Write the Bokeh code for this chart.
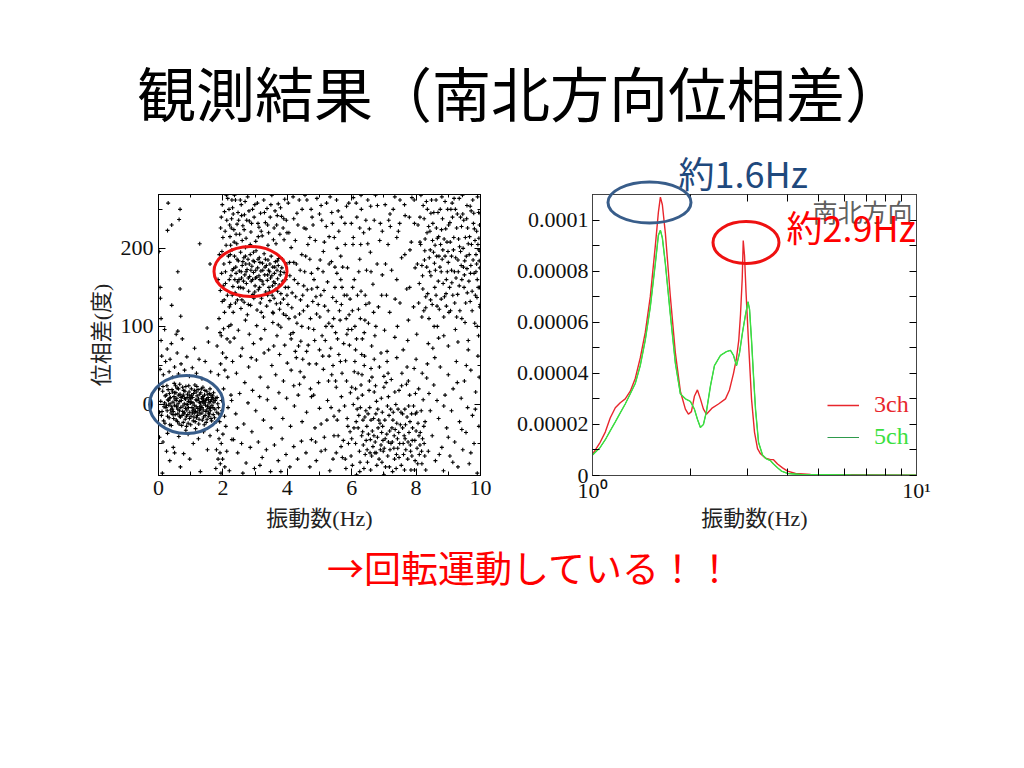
from bokeh.plotting import figure
from bokeh.layouts import column, row
from bokeh.models import (Range1d, LinearAxis, LogAxis, FixedTicker, CustomJSTickFormatter,
                          Label, Legend, LegendItem)
from bokeh.embed import file_html
from bokeh.resources import INLINE

# ---------------- data ----------------
title_text = "観測結果（南北方向位相差）"
bottom_text = "→回転運動している！！"
scatter_xlabel = "振動数(Hz)"
scatter_ylabel = "位相差(度)"
spec_xlabel = "振動数(Hz)"
direction_text = "南北方向"
peak1_text = "約1.6Hz"
peak2_text = "約2.9Hz"
series_names = ["3ch", "5ch"]

scatter_xticks = [0, 2, 4, 6, 8, 10]
scatter_yticks = [0, 100, 200]
spec_yticks = [0, 0.00002, 0.00004, 0.00006, 0.00008, 0.0001]

# scatter: (frequency Hz, phase difference deg), read region by region
dense_low = [
    (0.07,4),(0.11,-9),(0.13,17),(0.16,-21),(0.19,2),(0.21,11),(0.23,-4),(0.26,24),(0.28,-15),(0.29,6),
    (0.32,-1),(0.34,14),(0.35,-26),(0.37,9),(0.39,-11),(0.42,19),(0.43,-6),(0.45,3),(0.47,-18),(0.49,27),
    (0.51,7),(0.52,-13),(0.54,15),(0.56,-3),(0.58,21),(0.59,-22),(0.61,1),(0.63,12),(0.65,-8),(0.66,26),
    (0.68,-16),(0.71,5),(0.72,-27),(0.74,10),(0.76,-2),(0.78,18),(0.79,-12),(0.81,8),(0.83,-19),(0.85,23),
    (0.86,0),(0.88,-7),(0.90,13),(0.92,-24),(0.93,4),(0.95,16),(0.97,-10),(0.99,2),(1.01,-15),(1.02,20),
    (1.04,-4),(1.06,9),(1.08,-21),(1.09,14),(1.11,-1),(1.13,25),(1.15,-9),(1.16,6),(1.18,-17),(1.20,11),
    (1.22,-5),(1.23,19),(1.25,-25),(1.27,3),(1.29,-12),(1.31,15),(1.32,-2),(1.34,8),(1.36,-20),(1.38,22),
    (1.39,-7),(1.41,1),(1.43,12),(1.45,-14),(1.46,5),(1.48,-23),(1.50,17),(1.52,-3),(1.54,9),(1.55,-11),
    (1.57,2),(1.59,14),(1.61,-8),(1.63,-18),(1.64,6),(1.66,-1),(1.68,11),(1.70,-13),(1.72,3),(1.75,-6),
    (1.78,8),(1.81,-10),(1.84,1),
    (0.09,-14),(0.14,23),(0.17,-3),(0.20,-24),(0.24,12),(0.27,-8),(0.30,19),(0.33,-17),(0.36,1),(0.40,-27),
    (0.44,16),(0.46,-9),(0.50,-1),(0.53,24),(0.55,-20),(0.57,8),(0.60,-12),(0.62,20),(0.64,-25),(0.67,13),
    (0.69,-4),(0.73,-14),(0.75,22),(0.77,-23),(0.80,1),(0.82,17),(0.84,-5),(0.87,-28),(0.89,9),(0.91,-13),
    (0.94,24),(0.96,-18),(0.98,7),(1.00,-26),(1.03,12),(1.05,-11),(1.07,2),(1.10,-16),(1.12,18),(1.14,-22),
    (1.17,-3),(1.19,23),(1.21,-14),(1.24,7),(1.26,-19),(1.28,13),(1.30,-6),(1.33,20),(1.35,-11),(1.37,4),
    (1.40,-16),(1.42,-26),(1.44,18),(1.47,-9),(1.49,7),(1.51,-19),(1.53,13),(1.56,-15),(1.58,-5),(1.60,20),
    (1.62,4),(1.65,-21),(1.67,9),(1.69,-4),(1.71,15),(1.74,-17),(1.76,5),(1.79,-22),(1.82,9),(1.86,-4),
    (0.31,5),(0.38,-7),(0.48,10),(0.57,-2),(0.66,4),(0.75,-9),(0.84,7),(0.93,-4),(1.02,3),(1.11,-11),
    (1.19,5),(1.28,-3),(1.37,10),(1.46,-1),(1.55,6),(1.63,12),(0.41,-3),(0.50,15),(0.60,-6),(0.70,9),
    (0.80,-10),(0.90,0),(1.00,8),(1.10,-6),(1.20,-10),(1.30,2),(1.40,7),(1.50,-7),(1.58,-12),(0.25,-1),
    (0.35,8),(0.45,-13),(0.55,5),(0.65,-15),(0.77,12),(0.87,-15),(0.97,11),(1.07,-8),(1.17,16),(1.27,-8),
    (1.35,-4),(1.44,3),(1.53,-2),(1.62,-4),(1.70,7),
]
around_low = [
    (0.05,45),(0.10,62),(0.15,38),(0.22,55),(0.27,71),(0.33,42),(0.36,58),(0.44,35),(0.50,48),(0.58,66),
    (0.62,39),(0.70,52),(0.81,44),(0.88,61),(0.96,36),(1.05,47),(1.18,40),(1.26,58),(0.08,82),(0.40,78),
    (0.55,90),(0.19,96),(0.74,84),(1.12,72),(1.35,33),(0.03,-42),(0.14,-48),(0.28,-37),(0.46,-55),(0.63,-41),
    (0.78,-63),(0.92,-38),(1.08,-50),(1.24,-44),(1.40,-35),(1.52,-58),(0.35,-72),(0.68,-80),(0.97,-70),(1.30,-86),
    (0.12,-88),(0.50,-62),(1.60,-40),(1.15,-31),(0.85,-33),(0.02,20),(0.03,-10),(1.45,55),(1.62,42),(1.55,80),
    (0.25,-60),
]
upper_left = [
    (0.28,223),(0.41,230),(0.64,237),(0.67,250),(1.28,206),(0.60,170),(0.67,148),(0.41,127),(0.69,113),
    (0.05,150),(0.06,136),(0.08,110),(0.02,196),(1.51,98),(0.60,94),(0.30,258),(1.60,180),
]
edge_column = [
    (1.78,-82),(1.85,-70),(1.92,-76),(1.80,-58),(1.95,-50),(1.88,-44),(1.83,-33),(2.00,-38),(1.90,-22),(1.97,-8),
    (1.86,38),(1.93,52),(1.99,66),(1.82,75),(1.95,88),(2.02,97),(1.88,110),(2.05,118),(1.98,132),(1.92,146),
    (2.08,155),(1.96,168),(2.03,180),(1.89,192),(2.10,204),(2.00,214),(1.93,226),(2.12,236),(2.05,247),(1.98,256),
    (2.15,264),(2.08,170),(2.14,140),(2.20,125),(2.18,100),(2.22,80),(2.10,60),(2.15,35),(2.25,12),(2.05,-15),
    (2.12,-60),(2.20,-85),(1.94,-88),(2.28,-45),(2.02,20),
    (1.91,-62),(1.99,-70),(2.06,-80),(1.87,-12),(2.09,-28),(2.16,-4),(1.96,5),(2.06,44),(1.91,92),(2.13,84),
    (2.01,152),(2.17,190),(2.07,222),(2.19,250),(1.95,240),(2.11,268),(2.21,230),(1.85,160),(1.97,196),(2.04,134),
]
band_high = [
    (2.21,182),(2.25,165),(2.28,198),(2.31,151),(2.33,174),(2.36,190),(2.38,143),(2.41,168),(2.43,206),(2.46,157),
    (2.48,184),(2.51,171),(2.53,139),(2.55,195),(2.58,162),(2.60,178),(2.63,149),(2.65,188),(2.68,166),(2.70,201),
    (2.73,155),(2.75,173),(2.78,186),(2.80,145),(2.83,164),(2.85,192),(2.88,158),(2.90,177),(2.93,141),(2.95,169),
    (2.98,183),(3.00,152),(3.03,197),(3.05,163),(3.08,175),(3.10,147),(3.13,188),(3.15,160),(3.18,171),(3.20,136),
    (3.23,181),(3.25,154),(3.28,193),(3.30,166),(3.33,144),(3.35,178),(3.38,159),(3.40,185),(3.43,150),(3.45,170),
    (3.48,162),(3.50,190),(3.53,140),(3.55,176),(3.58,157),(3.60,168),(3.63,183),(3.65,148),(3.68,172),(3.70,161),
    (3.73,187),(3.75,153),(3.78,166),(3.80,142),(3.83,175),(3.86,158),(3.90,169),(3.94,150),(3.98,180),
    (2.22,215),(2.27,238),(2.30,252),(2.34,224),(2.39,262),(2.44,231),(2.47,246),(2.52,218),(2.57,256),(2.62,229),
    (2.67,243),(2.72,213),(2.77,266),(2.82,235),(2.87,221),(2.92,250),(2.97,240),(3.02,209),(3.07,258),(3.12,227),
    (3.17,245),(3.22,216),(3.27,262),(3.32,233),(3.37,251),(3.42,220),(3.47,240),(3.52,268),(3.57,211),(3.62,248),
    (3.67,230),(3.72,257),(3.77,218),(3.82,241),(3.87,226),(3.92,263),(3.97,236),(2.35,208),(2.60,210),(2.85,205),
    (3.10,215),(3.40,204),(3.65,206),(3.90,211),
    (2.24,128),(2.32,118),(2.45,134),(2.56,123),(2.66,131),(2.76,115),(2.86,127),(2.96,136),(3.06,121),(3.16,130),
    (3.26,112),(3.36,126),(3.46,133),(3.56,117),(3.66,129),(3.76,122),(3.88,135),(3.96,114),
    (2.40,176),(2.50,160),(2.62,183),(2.72,170),(2.82,180),(2.92,160),(3.02,172),(3.12,165),(3.22,158),(3.32,186),
    (3.42,172),(3.52,165),(3.62,155),(3.72,178),(2.55,150),(2.70,190),(2.95,195),(3.15,182),(3.45,145),(3.70,145),
    (2.23,192),(2.29,172),(2.37,160),(2.44,186),(2.49,150),(2.57,170),(2.64,158),(2.71,180),(2.79,162),(2.87,172),
    (2.94,184),(3.01,162),(3.09,186),(3.14,150),(3.24,172),(3.31,176),(3.39,166),(3.46,180),(3.54,152),(3.61,176),
    (3.69,184),(3.79,170),(3.85,186),(3.95,160),(2.26,226),(2.32,244),(2.41,218),(2.49,236),(2.58,242),(2.66,224),
    (2.74,236),(2.81,248),(2.89,232),(2.99,256),(3.09,232),(3.19,222),(3.29,246),(3.39,230),(3.49,256),(3.59,226),
    (3.69,242),(3.79,252),(3.89,238),(3.99,220),(2.29,140),(2.39,130),(2.59,134),(2.79,128),(2.99,144),(3.19,118),
    (3.39,140),(3.59,136),(3.79,130),(3.99,140),(2.20,160),(2.24,204),(2.28,262),(2.36,268),(2.54,262),(2.69,260),
]
mid_low = [
    (2.25,102),(2.35,85),(2.48,95),(2.60,72),(2.70,108),(2.82,90),(2.95,78),(3.05,101),(3.18,84),(3.30,96),
    (3.42,70),(3.55,105),(3.68,88),(3.80,99),(3.92,76),(4.05,110),(4.18,92),(4.30,104),(4.42,81),
    (2.30,55),(2.42,40),(2.55,62),(2.68,28),(2.80,48),(2.92,18),(3.04,57),(3.16,35),(3.28,66),(3.40,22),
    (3.52,50),(3.64,38),(3.76,64),(3.88,30),(4.00,53),(4.12,44),(4.25,68),(4.38,26),(4.48,58),
    (2.27,5),(2.40,-12),(2.52,14),(2.65,-25),(2.78,2),(2.90,-35),(3.02,-8),(3.14,10),(3.26,-20),(3.38,6),
    (3.50,-30),(3.62,-5),(3.74,15),(3.86,-18),(3.98,8),(4.10,-28),(4.22,-2),(4.34,12),(4.46,-22),
    (2.33,-45),(2.46,-62),(2.58,-50),(2.72,-75),(2.85,-55),(2.98,-82),(3.10,-48),(3.22,-68),(3.35,-58),(3.48,-86),
    (3.60,-52),(3.72,-72),(3.84,-44),(3.96,-64),(4.08,-80),(4.20,-54),(4.32,-70),(4.44,-47),(2.62,-88),(3.15,-78),
    (3.80,-86),(2.45,-30),(3.58,75),(2.88,60),
]
mid_upper = [
    (4.02,128),(4.08,165),(4.12,201),(4.15,143),(4.20,238),(4.24,112),(4.28,180),(4.33,155),(4.37,262),(4.41,134),
    (4.45,192),(4.50,120),(4.54,170),(4.58,225),(4.62,147),(4.66,98),(4.70,186),(4.74,250),(4.79,132),(4.83,160),
    (4.87,210),(4.91,116),(4.95,174),(5.00,244),(5.04,140),(5.08,88),(5.12,196),(5.16,126),(5.21,228),(5.25,157),
    (5.29,104),(5.33,266),(5.37,183),(5.41,137),(5.46,214),(5.50,92),(5.54,168),(5.58,248),(5.62,120),(5.66,190),
    (5.70,150),(5.75,78),(5.79,232),(5.83,110),(5.87,175),(5.91,258),(5.95,135),(6.00,96),(6.04,205),(6.08,160),
    (6.12,70),(6.16,240),(6.21,122),(6.25,186),(6.29,145),(6.33,84),(6.37,220),(6.41,108),(6.46,172),(6.50,262),
    (6.54,130),(6.58,195),(6.62,75),(6.66,154),(6.70,236),(6.75,100),(6.79,180),(6.83,125),(6.87,210),(6.91,66),
    (6.95,166),(4.10,90),(4.35,75),(4.60,68),(4.85,82),(5.10,62),(5.35,72),(5.60,64),(5.85,90),(6.10,100),
    (4.05,220),(4.30,245),(4.55,268),(4.80,230),(5.05,255),(5.30,215),(5.55,200),(5.80,205),(6.05,265),(6.30,250),
    (6.55,225),(6.80,255),(4.48,140),(4.72,110),(4.96,128),(5.20,100),(5.44,110),(5.68,128),(5.92,115),(6.18,140),
    (6.42,140),(6.68,118),(6.93,140),(4.20,182),(4.64,205),(5.02,185),(5.48,176),(5.72,176),(6.28,205),(6.60,170),
    (3.55,118),(3.72,102),(3.88,116),(4.03,150),(4.14,124),(4.26,138),(4.38,116),(4.51,152),(4.63,126),(4.76,148),
    (4.89,138),(5.01,112),(5.14,146),(5.27,120),(5.39,100),(5.52,132),(5.64,108),(5.77,140),(5.89,96),(6.02,120),
    (6.15,84),(6.27,110),(6.39,92),(6.52,104),(4.07,182),(4.22,160),(4.40,172),(4.57,190),(4.75,168),(4.93,150),
    (5.11,170),(5.30,180),(5.48,150),(5.66,160),(5.85,140),(6.03,150),(6.22,170),(6.44,128),(4.12,84),(4.45,100),
    (4.82,96),(5.18,82),(5.56,84),(5.93,76),(6.31,64),(6.72,88),(4.28,60),(4.65,76),(5.00,70),(5.42,50),
    (5.81,56),(6.20,40),(6.60,46),(7.00,36),(4.40,42),(4.90,52),(5.50,30),(6.00,22),(4.20,24),(4.75,10),
    (4.03,258),(4.18,266),(4.33,230),(4.46,250),(4.61,262),(4.77,240),(4.92,264),(5.07,236),(5.22,258),(5.38,246),
    (5.53,262),(5.68,240),(5.84,254),(5.99,232),(6.14,258),(6.29,268),(6.44,236),(6.59,254),(6.74,268),(6.89,232),
    (7.04,256),(7.19,244),(7.34,266),(7.49,232),(7.64,256),(7.79,240),(7.94,262),(4.25,210),(4.70,214),(5.15,208),
    (5.60,222),(6.05,214),(6.50,206),(6.95,222),(7.40,214),(7.85,208),(4.52,226),(5.40,232),(6.25,226),(7.15,236),
]
right_low = [
    (4.52,35),(4.60,-10),(4.68,52),(4.75,-45),(4.82,12),(4.90,-72),(4.97,28),(5.05,-25),(5.12,45),(5.18,-58),
    (5.25,5),(5.32,-85),(5.38,38),(5.45,-15),(5.52,22),(5.58,-40),(5.65,55),(5.71,-68),(5.78,-2),(5.84,30),
    (5.90,-50),(5.96,15),(6.02,-78),(6.08,42),(6.14,-22),(6.19,8),(6.24,-60),(6.29,25),(6.34,-35),(6.39,50),
    (6.44,-8),(6.49,-74),(6.54,18),(6.58,-45),(6.63,35),(6.68,-18),(6.72,-62),(6.77,4),(6.82,-30),(6.86,48),
    (6.91,-52),(6.95,-10),(7.00,22),(7.05,-80),(7.09,-38),(7.14,10),(7.19,-58),(7.23,32),(7.28,-20),(7.33,-70),
    (7.37,0),(7.42,-44),(7.47,18),(7.51,-26),(7.56,40),(7.61,-64),(7.65,-6),(7.70,26),(7.75,-48),(7.80,12),
    (7.84,-84),(7.89,-30),(7.94,46),(7.98,-12),(8.03,-56),(8.08,20),(8.13,-36),(8.18,-76),(8.22,6),(8.28,-22),
    (8.33,34),(8.38,-60),(8.44,-8),
    (4.58,-62),(4.72,20),(4.86,-30),(5.00,-5),(5.15,-42),(5.28,30),(5.42,-70),(5.55,-20),(5.68,10),(5.82,-82),
    (5.95,-35),(6.05,0),(6.12,-50),(6.22,-14),(6.32,38),(6.38,-82),(6.47,-28),(6.56,-4),(6.62,-66),(6.70,16),
    (6.80,-42),(6.88,-24),(6.98,-60),(7.07,28),(7.16,-14),(7.26,-48),(7.35,-32),(7.44,-6),(7.54,-78),(7.63,-40),
    (7.72,-16),(7.82,-52),(7.92,-2),(8.00,-34),(8.10,-64),(8.20,-44),(8.30,-84),(8.40,14),(6.15,-90),(7.00,-90),
    (6.27,-4),(6.36,-52),(6.52,-38),(6.66,-54),(6.75,-12),(6.85,-70),(6.93,-36),(7.03,-20),(7.12,-66),(7.21,-6),
    (7.31,-56),(7.40,-24),(7.49,-50),(7.58,-12),(7.68,-58),(7.78,-36),(7.87,-66),(7.96,-46),(8.06,-24),(8.16,-8),
    (6.42,-64),(6.60,-20),(6.78,-78),(6.97,-46),(7.18,-34),(7.38,-82),(7.58,-30),(7.77,-2),(7.97,-72),(8.25,-50),
    (6.10,55),(6.40,62),(6.70,58),(7.10,55),(7.40,60),(7.72,48),(8.00,58),(8.35,52),(5.30,62),(5.70,40),
    (5.52,-62),(5.61,-8),(5.74,-46),(5.86,-18),(5.98,-66),(6.07,-30),(6.17,-6),(6.26,-74),(6.35,-20),(6.45,-46),
    (6.51,-12),(6.59,-84),(6.64,-34),(6.73,-48),(6.81,-6),(6.89,-58),(6.96,-28),(7.04,-44),(7.11,-2),(7.17,-80),
    (7.25,-30),(7.32,-40),(7.39,-64),(7.46,-36),(7.53,-10),(7.60,-50),(7.67,-26),(7.74,-70),(7.81,-22),(7.88,-46),
    (7.95,-84),(8.02,-10),(8.09,-40),(8.17,-60),(8.24,-28),(6.31,-40),(6.48,-58),(6.69,-40),(6.84,-20),(7.01,-56),
    (7.22,-50),(7.43,-56),(7.64,-84),(7.86,-12),(8.05,-76),(6.20,-30),(6.41,-16),(6.57,-62),(6.76,-62),(6.94,-74),
    (7.14,-48),(7.29,-10),(7.47,-68),(7.66,-44),(7.83,-60),(8.12,-52),(8.27,-66),(6.12,20),(6.33,12),(6.55,30),
    (6.74,24),(6.92,8),(7.13,40),(7.34,16),(7.55,24),(7.76,30),(7.98,14),(8.19,40),(5.88,-28),(5.67,-54),
    (5.45,-40),(5.23,-20),(5.05,-60),(4.88,-48),(4.70,-80),(5.36,-4),(5.80,-70),(6.00,-44),(6.25,-86),(7.27,-86),
]
right_upper = [
    (7.02,95),(7.08,140),(7.13,205),(7.18,118),(7.24,172),(7.29,250),(7.34,86),(7.40,160),(7.45,222),(7.50,130),
    (7.55,188),(7.60,70),(7.66,242),(7.71,148),(7.76,108),(7.81,198),(7.87,265),(7.92,125),(7.97,175),(8.02,90),
    (8.06,230),(8.10,155),(8.14,205),(8.18,112),(8.22,255),(8.26,185),(8.30,138),(8.34,220),(8.38,78),(8.42,170),
    (8.46,245),(8.50,128),(8.54,195),(8.58,150),(8.62,262),(8.66,100),(8.70,215),(8.74,176),(8.78,135),(8.82,238),
    (8.86,88),(8.90,190),(8.94,160),(8.98,250),(9.02,118),(9.06,208),(9.10,172),(9.14,140),(9.18,264),(9.22,96),
    (9.26,226),(9.30,185),(9.34,152),(9.38,240),(9.42,110),(9.46,200),(9.50,166),(9.54,130),(9.58,255),(9.62,82),
    (9.66,215),(9.70,178),(9.74,145),(9.78,232),(9.82,104),(9.86,192),(9.90,160),(9.94,246),(9.98,125),
    (8.04,180),(8.12,240),(8.20,165),(8.28,212),(8.36,142),(8.44,198),(8.52,232),(8.60,172),(8.68,246),(8.76,205),
    (8.84,155),(8.92,225),(9.00,182),(9.08,250),(9.16,198),(9.24,162),(9.32,212),(9.40,178),(9.48,236),(9.56,190),
    (9.64,158),(9.72,205),(9.80,168),(9.88,222),(9.96,184),(8.08,130),(8.24,120),(8.40,110),(8.56,100),(8.72,122),
    (8.88,138),(9.04,150),(9.20,130),(9.36,120),(9.52,105),(9.68,132),(9.84,140),(9.97,150),(8.15,268),(8.48,262),
    (8.80,266),(9.12,258),(9.44,268),(9.76,262),(9.92,205),(9.60,226),(9.28,244),(8.96,208),(8.64,190),(8.32,260),
    (7.05,180),(7.20,228),(7.35,135),(7.50,262),(7.65,192),(7.80,150),(7.95,232),(7.10,68),(7.42,100),(7.74,82),
    (9.90,100),(9.94,88),(9.98,175),(9.99,196),(9.97,230),
    (8.21,148),(8.27,197),(8.33,176),(8.39,228),(8.45,134),(8.51,210),(8.57,181),(8.63,226),(8.69,158),(8.75,250),
    (8.81,186),(8.87,212),(8.93,142),(8.99,196),(9.05,233),(9.11,156),(9.17,214),(9.23,188),(9.29,141),(9.35,202),
    (9.41,228),(9.47,176),(9.53,214),(9.59,143),(9.65,192),(9.71,248),(9.77,185),(9.83,210),(9.89,137),(9.95,213),
    (8.25,238),(8.35,250),(8.43,222),(8.55,246),(8.66,213),(8.79,224),(8.90,260),(9.01,230),(9.13,240),(9.22,250),
    (9.34,264),(9.45,244),(9.57,238),(9.68,254),(9.79,245),(9.91,266),(8.30,124),(8.46,165),(8.62,140),(8.78,170),
    (8.94,126),(9.10,190),(9.26,112),(9.42,160),(9.58,174),(9.74,120),(9.86,170),(9.93,150),(9.99,128),(9.99,245),
    (8.12,208),(8.18,178),(8.41,188),(8.59,204),(8.71,190),(8.83,198),(8.97,170),(9.19,170),(9.38,196),(9.51,184),
    (9.62,206),(9.81,225),(9.95,198),(9.88,180),(9.69,168),(9.49,150),(9.31,170),(9.07,120),(8.86,112),(8.65,126),
]
far_right_low = [
    (8.50,-40),(8.55,25),(8.60,-72),(8.65,5),(8.70,-18),(8.75,48),(8.80,-55),(8.85,-85),(8.90,12),(8.95,-30),
    (9.00,38),(9.05,-66),(9.10,-8),(9.15,20),(9.20,-48),(9.25,55),(9.30,-80),(9.35,-22),(9.40,8),(9.45,-58),
    (9.50,30),(9.55,-36),(9.60,-4),(9.65,-76),(9.70,44),(9.75,-14),(9.80,-50),(9.85,16),(9.90,-88),(9.95,-28),
    (8.58,60),(8.72,-64),(8.86,-2),(9.00,-42),(9.14,-74),(9.28,28),(9.42,-32),(9.56,50),(9.70,-62),(9.84,-6),
    (9.92,62),(9.62,70),(9.30,80),(9.00,75),(8.70,85),(8.52,72),(9.96,35),
]

# spectra: frequency (Hz) and amplitude (x 1e-5)
freq_3ch = [1.000, 1.056, 1.095, 1.134, 1.176, 1.218, 1.262, 1.308, 1.355, 1.404, 1.455, 1.508, 1.563,
            1.597, 1.620, 1.643, 1.678, 1.739, 1.802, 1.867, 1.935, 1.977, 2.020, 2.063, 2.108, 2.153,
            2.200, 2.247, 2.345, 2.448, 2.573, 2.647, 2.724, 2.783, 2.828, 2.863, 2.898, 2.919, 2.946,
            2.977, 3.031, 3.096, 3.162, 3.231, 3.300, 3.420, 3.544, 3.620, 3.725, 3.860, 4.000, 4.234,
            4.712, 6.265, 7.757, 10.0]
amp_3ch = [0.83, 1.3, 1.7, 2.25, 2.65, 2.85, 3.0, 3.3, 3.8, 4.6, 5.6, 7.0, 9.0,
           10.3, 10.9, 10.6, 9.5, 7.0, 4.8, 3.3, 2.6, 2.4, 2.5, 3.1, 3.35, 3.0,
           2.6, 2.4, 2.65, 2.8, 3.0, 3.35, 4.0, 4.6, 5.3, 6.3, 7.7, 9.2, 8.6,
           7.2, 5.2, 3.0, 1.7, 1.05, 0.85, 0.68, 0.62, 0.62, 0.45, 0.3, 0.17, 0.08,
           0.04, 0.03, 0.02, 0.01]
freq_5ch = [1.000, 1.056, 1.095, 1.134, 1.176, 1.218, 1.262, 1.308, 1.355, 1.404, 1.455, 1.508, 1.563,
            1.597, 1.620, 1.643, 1.678, 1.739, 1.802, 1.867, 1.935, 2.005, 2.063, 2.108, 2.153, 2.200,
            2.247, 2.312, 2.379, 2.483, 2.591, 2.666, 2.724, 2.783, 2.843, 2.904, 2.967, 3.020, 3.053,
            3.096, 3.140, 3.185, 3.254, 3.348, 3.444, 3.544, 3.620, 3.725, 3.832, 4.000, 4.387, 6.265, 10.0]
amp_5ch = [0.8, 1.1, 1.4, 1.75, 2.1, 2.45, 2.8, 3.2, 3.6, 4.3, 5.3, 6.6, 8.3,
           9.4, 9.6, 9.3, 8.3, 6.3, 4.4, 3.2, 3.0, 2.9, 2.6, 2.2, 1.88, 2.0,
           2.5, 3.5, 4.3, 4.7, 4.85, 4.9, 4.7, 4.3, 4.8, 5.6, 6.3, 6.8, 6.5,
           5.3, 3.9, 2.6, 1.3, 0.8, 0.65, 0.58, 0.45, 0.3, 0.17, 0.08, 0.04, 0.02, 0.01]

# ---------------- styles ----------------
SERIF = "Liberation Serif"
JP = "Noto Sans CJK JP"
MIX = "Liberation Serif, Noto Sans CJK JP"
RED = "#E8262C"
GREEN = "#3BE03F"
GREEN_DARK = "#2E9A4C"
BLUE_SHAPE = "#385D8A"
BLUE_TEXT = "#1F497D"
SHAPE_RED = "#EE1111"

# highlight ellipses drawn on the transparent overlay (page pixels: cx, cy, w, h)
OV_TOP, OV_H = 145, 480
ring_cx = [186, 250, 649, 745.5]
ring_cy = [404, 271, 202, 242]
ring_w = [74, 73, 83, 66]
ring_h = [58, 50, 41, 42]
ring_col = [BLUE_SHAPE, SHAPE_RED, BLUE_SHAPE, SHAPE_RED]


def page_y(y):
    return OV_TOP + OV_H - y


def style_axis(ax, font_size="22px", tick_in=7, minor_in=4):
    ax.major_tick_in = tick_in
    ax.major_tick_out = 0
    ax.minor_tick_in = minor_in
    ax.minor_tick_out = 0
    ax.major_label_text_font = SERIF
    ax.major_label_text_font_size = font_size
    ax.major_label_text_color = "#111111"
    ax.axis_label_text_font = MIX
    ax.axis_label_text_font_size = "22px"
    ax.axis_label_text_font_style = "normal"
    ax.axis_label_text_color = "#222222"


def blank():
    return CustomJSTickFormatter(code="return ''")


# ---------------- title ----------------
tf = figure(width=1016, height=145, x_range=Range1d(0, 1016), y_range=Range1d(0, 145),
            output_backend="svg", toolbar_location=None, min_border=0,
            x_axis_location=None, y_axis_location=None)
tf.grid.visible = False
tf.outline_line_color = None
tf.add_layout(Label(x=520, y=54, text=title_text, text_font=JP, text_font_size="59px",
                    text_color="#000000", text_align="center", text_baseline="middle"))

# ---------------- scatter ----------------
regions = [dense_low, around_low, upper_left, edge_column, band_high, mid_low,
           mid_upper, right_low, right_upper, far_right_low]
sx = [pt[0] for reg in regions for pt in reg]
sy = [pt[1] for reg in regions for pt in reg]

p1 = figure(width=510, height=400, x_range=Range1d(0, 10), y_range=Range1d(-91, 269),
            output_backend="svg", toolbar_location=None,
            min_border_left=158, min_border_right=30, min_border_top=49, min_border_bottom=70)
p1.grid.visible = False
p1.outline_line_color = "#000000"
p1.scatter(sx, sy, marker="cross", size=4, line_width=1.1, color="#000000")

xt1 = FixedTicker(ticks=scatter_xticks, minor_ticks=[1, 3, 5, 7, 9])
yt1 = FixedTicker(ticks=scatter_yticks, minor_ticks=[-50, 50, 150, 250])
p1.xaxis.ticker = xt1
p1.yaxis.ticker = yt1
p1.xaxis.axis_label = scatter_xlabel
p1.yaxis.axis_label = scatter_ylabel
for ax in p1.xaxis + p1.yaxis:
    style_axis(ax)
    ax.axis_line_color = "#000000"
p1.xaxis.major_label_standoff = 5
p1.xaxis.axis_label_standoff = 8
p1.yaxis.major_label_standoff = 5
p1.yaxis.axis_label_standoff = 4
p1.add_layout(LinearAxis(ticker=xt1, formatter=blank(), major_tick_in=6, major_tick_out=0,
                         minor_tick_in=3, minor_tick_out=0, axis_line_color="#000000"), "above")
p1.add_layout(LinearAxis(ticker=yt1, formatter=blank(), major_tick_in=6, major_tick_out=0,
                         minor_tick_in=3, minor_tick_out=0, axis_line_color="#000000"), "right")

# ---------------- spectrum ----------------
p2 = figure(width=466, height=400, x_axis_type="log", x_range=Range1d(1, 10),
            y_range=Range1d(0, 0.00011), output_backend="svg", toolbar_location=None,
            min_border_left=82, min_border_right=60, min_border_top=49, min_border_bottom=70)
p2.grid.visible = False
p2.outline_line_color = "#444444"

r3 = p2.line(freq_3ch, [v * 1e-5 for v in amp_3ch], color=RED, line_width=1.4)
r5_key = p2.line(freq_5ch, [v * 1e-5 for v in amp_5ch], color=GREEN_DARK, line_width=1.0)
r5 = p2.line(freq_5ch, [v * 1e-5 for v in amp_5ch], color=GREEN, line_width=1.4)

xt2 = FixedTicker(ticks=[1, 10], minor_ticks=[2, 3, 4, 5, 6, 7, 8, 9])
yt2 = FixedTicker(ticks=spec_yticks, minor_ticks=[0.00001, 0.00003, 0.00005, 0.00007, 0.00009])
p2.xaxis.ticker = xt2
p2.yaxis.ticker = yt2
p2.xaxis.formatter = CustomJSTickFormatter(code="return tick < 3 ? '10\u2070' : '10\u00b9'")
p2.yaxis.formatter = CustomJSTickFormatter(
    code="return tick == 0 ? '0' : String(parseFloat(tick.toPrecision(6)))")
p2.xaxis.axis_label = spec_xlabel
for ax in p2.xaxis + p2.yaxis:
    style_axis(ax, font_size="22px", tick_in=7, minor_in=7)
    ax.axis_line_color = "#444444"
p2.xaxis.major_label_standoff = 2
p2.xaxis.axis_label_standoff = 0
p2.yaxis.major_label_standoff = 4
p2.add_layout(LogAxis(ticker=xt2, formatter=blank(), major_tick_in=7, major_tick_out=0,
                      minor_tick_in=7, minor_tick_out=0, axis_line_color="#444444"), "above")
p2.add_layout(LinearAxis(ticker=yt2, formatter=blank(), major_tick_in=7, major_tick_out=0,
                         minor_tick_in=7, minor_tick_out=0, axis_line_color="#444444"), "right")

for name, rend, col, loc in [(series_names[0], r3, RED, (235, 57)),
                             (series_names[1], r5_key, GREEN, (235, 25))]:
    leg = Legend(items=[LegendItem(label=name, renderers=[rend])], location=loc,
                 glyph_width=32, glyph_height=20, label_height=20, label_standoff=15,
                 padding=0, margin=0, spacing=0, border_line_color=None,
                 background_fill_alpha=0, label_text_font=SERIF,
                 label_text_font_size="24px", label_text_color=col)
    p2.add_layout(leg)

p2.add_layout(Label(x=9.72, y=1.0335e-4, text=direction_text, text_font=JP,
                    text_font_size="25px", text_color="#606060", text_align="right",
                    text_baseline="middle"))

# ---------------- transparent overlay: rings, peak notes, conclusion ----------------
ov = figure(width=1016, height=OV_H, x_range=Range1d(0, 1016), y_range=Range1d(0, OV_H),
            output_backend="svg", toolbar_location=None, min_border=0,
            x_axis_location=None, y_axis_location=None, margin=(-400, 0, 0, 0))
ov.grid.visible = False
ov.outline_line_color = None
ov.background_fill_color = None
ov.border_fill_color = None
ov.ellipse(x=ring_cx, y=[page_y(v) for v in ring_cy], width=ring_w, height=ring_h,
           width_units="screen", height_units="screen", fill_color=None,
           line_color=ring_col, line_width=3)
ov.add_layout(Label(x=678, y=page_y(171), text=peak1_text, text_font=JP, text_font_size="36px",
                    text_color=BLUE_TEXT, text_align="left", text_baseline="middle"))
ov.add_layout(Label(x=786, y=page_y(225), text=peak2_text, text_font=JP, text_font_size="36px",
                    text_color="#FF0000", text_align="left", text_baseline="middle"))
ov.add_layout(Label(x=530, y=page_y(566), text=bottom_text, text_font=JP, text_font_size="37px",
                    text_color="#FF0000", text_align="center", text_baseline="middle"))

layout = column(tf, row(p1, p2), ov)
open("out.html", "w").write(file_html(layout, INLINE))
